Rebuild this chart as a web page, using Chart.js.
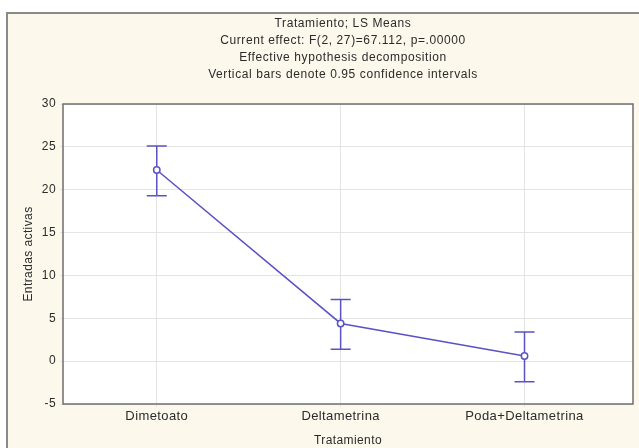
<!DOCTYPE html>
<html>
<head>
<meta charset="utf-8">
<script src="https://cdn.jsdelivr.net/npm/chart.js@4"></script>
<style>
    html, body { margin: 0; padding: 0; background: #ffffff; }
    #wrap { width: 639px; height: 448px; position: relative; }
</style>
</head>
<body>
<div id="wrap"><canvas id="chart" width="639" height="448"></canvas></div>
<script>
// Tratamiento; LS Means
const categories = ['Dimetoato', 'Deltametrina', 'Poda+Deltametrina'];
const means = [22.3, 4.4, 0.6];
const upper = [25.1, 7.2, 3.4];
const lower = [19.3, 1.4, -2.4];
const yTicks = [-5, 0, 5, 10, 15, 20, 25, 30];
const titleLines = [
    'Tratamiento; LS Means',
    'Current effect: F(2, 27)=67.112, p=.00000',
    'Effective hypothesis decomposition',
    'Vertical bars denote 0.95 confidence intervals'
];

const colors = {
    line: '#5b52c4',
    frame: '#8a8a8a',
    panel: '#fcf8ec',
    grid: '#e4e4e4',
    axis: '#6e6e6e',
    text: '#2b2b2b'
};
const fontFamily = "'Liberation Sans', Arial, sans-serif";

// background panel, plot area and titles
const backgroundPlugin = {
    id: 'background',
    beforeDraw(chart) {
        const ctx = chart.ctx;
        const a = chart.chartArea;
        // the old Statistica text is a bit wider than Arial
        ctx.letterSpacing = '0.4px';
        ctx.save();
        ctx.fillStyle = '#ffffff';
        ctx.fillRect(0, 0, chart.width, chart.height);
        ctx.fillStyle = colors.panel;
        ctx.fillRect(6, 12, chart.width, chart.height);
        ctx.strokeStyle = colors.frame;
        ctx.lineWidth = 2;
        ctx.strokeRect(7, 13, chart.width + 10, chart.height + 10);
        ctx.fillStyle = '#ffffff';
        ctx.fillRect(a.left, a.top, a.right - a.left, a.bottom - a.top);

        ctx.fillStyle = colors.text;
        ctx.font = '12px ' + fontFamily;
        ctx.letterSpacing = '0.6px';
        ctx.textAlign = 'center';
        ctx.textBaseline = 'middle';
        titleLines.forEach((t, i) => ctx.fillText(t, 343, 24 + i * 16.8));
        ctx.restore();
    },
    afterDraw(chart) {
        const ctx = chart.ctx;
        const a = chart.chartArea;
        ctx.save();
        ctx.strokeStyle = colors.axis;
        ctx.lineWidth = 1.5;
        ctx.strokeRect(a.left, a.top, a.right - a.left, a.bottom - a.top);
        ctx.restore();
    }
};

// confidence interval bars drawn through the scales
const errorBarPlugin = {
    id: 'errorBars',
    afterDatasetsDraw(chart) {
        const ctx = chart.ctx;
        const xs = chart.scales.x;
        const ys = chart.scales.y;
        ctx.save();
        ctx.strokeStyle = colors.line;
        ctx.lineWidth = 1.5;
        categories.forEach((_, i) => {
            const x = xs.getPixelForValue(i);
            const yTop = ys.getPixelForValue(upper[i]);
            const yBot = ys.getPixelForValue(lower[i]);
            const yMid = ys.getPixelForValue(means[i]);
            ctx.beginPath();
            ctx.moveTo(x, yTop);
            ctx.lineTo(x, yMid - 3.5);
            ctx.moveTo(x, yMid + 3.5);
            ctx.lineTo(x, yBot);
            ctx.moveTo(x - 10, yTop);
            ctx.lineTo(x + 10, yTop);
            ctx.moveTo(x - 10, yBot);
            ctx.lineTo(x + 10, yBot);
            ctx.stroke();
        });
        ctx.restore();
    }
};

new Chart(document.getElementById('chart'), {
    type: 'line',
    data: {
        datasets: [{
            data: means.map((v, i) => ({ x: i, y: v })),
            borderColor: colors.line,
            borderWidth: 1.5,
            pointRadius: 3.2,
            pointBackgroundColor: '#ffffff',
            pointBorderColor: colors.line,
            pointBorderWidth: 1.5,
            tension: 0
        }]
    },
    options: {
        responsive: false,
        animation: false,
        layout: { padding: { top: 104, right: 6, left: 0, bottom: 0 } },
        plugins: {
            legend: { display: false },
            tooltip: { enabled: false }
        },
        scales: {
            x: {
                type: 'linear',
                min: -0.51,
                max: 2.59,
                afterBuildTicks(scale) {
                    scale.ticks = categories.map((_, i) => ({ value: i }));
                },
                afterFit(scale) { scale.height = 44; },
                grid: { color: colors.grid, tickLength: 3, drawTicks: true },
                border: { display: false },
                ticks: {
                    color: colors.text,
                    padding: 2,
                    maxRotation: 0,
                    font: { family: fontFamily, size: 13 },
                    callback: (v) => categories[v] ?? ''
                },
                title: {
                    display: true,
                    text: 'Tratamiento',
                    color: colors.text,
                    padding: { top: 0, bottom: 0 },
                    font: { family: fontFamily, size: 12 }
                }
            },
            y: {
                min: -5,
                max: 30,
                afterBuildTicks(scale) {
                    scale.ticks = yTicks.map(v => ({ value: v }));
                },
                afterFit(scale) { scale.width = 63; },
                grid: { color: colors.grid, tickLength: 3 },
                border: { display: false },
                ticks: {
                    color: colors.text,
                    padding: 4,
                    font: { family: fontFamily, size: 12 }
                },
                title: {
                    display: true,
                    text: 'Entradas activas',
                    color: colors.text,
                    padding: { top: 21, bottom: 0 },
                    font: { family: fontFamily, size: 12 }
                }
            }
        }
    },
    plugins: [backgroundPlugin, errorBarPlugin]
});
</script>
</body>
</html>
